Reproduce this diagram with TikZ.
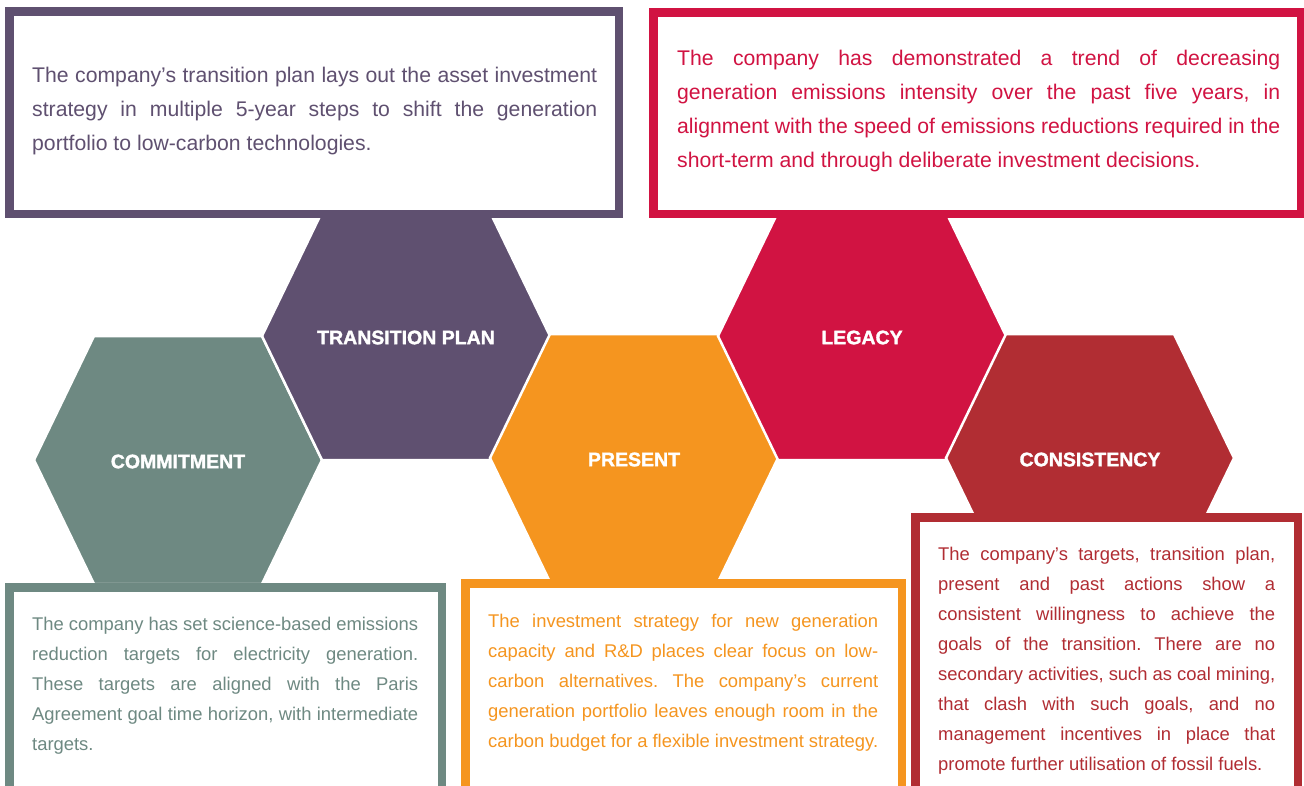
\documentclass[tikz,border=0pt]{standalone}
\usepackage{fontspec}
\setmainfont{Liberation Sans}
\newfontfamily\hexfont{Liberation Sans}[UprightFont={* Bold}, FakeBold=1.6]
\definecolor{planpurple}{HTML}{5F5070}
\definecolor{legacyred}{HTML}{D11342}
\definecolor{commitgrey}{HTML}{6E8982}
\definecolor{presentorange}{HTML}{F5951F}
\definecolor{consistred}{HTML}{B12D33}
\frenchspacing
\tolerance=9999
\hyphenpenalty=10000

\begin{document}
\begin{tikzpicture}[x=1pt, y=-1pt,
				    hexa/.style={draw=white, line width=2.5pt},
				    hexlabel/.style={text=white, inner sep=0pt,
				    			  font=\hexfont\fontsize{19.5}{20}\selectfont},
				    boxframe/.style={draw=#1, line width=8.5pt, fill=white},
				    bigtext/.style={text=#1, anchor=base west, inner sep=0pt, align=justify,
				    			  font=\fontsize{21.2}{34}\selectfont},
				    smalltext/.style={text=#1, anchor=base west, inner sep=0pt, align=justify,
				    			  font=\fontsize{18.4}{30}\selectfont}]
	\useasboundingbox (0,0) rectangle (1304,785);
	\path[clip] (0,0) rectangle (1304,785);

	\foreach \cx/\cy/\col/\txt/\nm in {178/460/commitgrey/COMMITMENT/commit,
		406/336/planpurple/TRANSITION PLAN/plan, 634/458/presentorange/PRESENT/present,
		862/336/legacyred/LEGACY/legacy, 1090/458/consistred/CONSISTENCY/consist}
	{
		\filldraw[hexa, fill=\col] (\cx-144,\cy) -- (\cx-84,\cy-124) -- (\cx+84,\cy-124)
			-- (\cx+144,\cy) -- (\cx+84,\cy+124) -- (\cx-84,\cy+124) -- cycle;
		\node[hexlabel] (\nm) at (\cx,\cy+1.5) {\txt};
	}

	\draw[boxframe=planpurple] (9.25,11.25) rectangle (618.75,213.75);
	\draw[boxframe=legacyred] (653.25,12.25) rectangle (1300.75,213.75);
	\draw[boxframe=commitgrey] (9.25,587.25) rectangle (441.75,820);
	\draw[boxframe=presentorange] (465.25,583.25) rectangle (901.75,820);
	\draw[boxframe=consistred] (915.25,517.25) rectangle (1297.75,820);

	\node[bigtext=planpurple, text width=565pt] (plantext) at (32,82)
		{The company's transition plan lays out the asset investment\linebreak
		 strategy in multiple 5-year steps to shift the generation\linebreak
		 portfolio to low-carbon technologies.};
	\node[bigtext=legacyred, text width=603pt] (legacytext) at (677,65)
		{The company has demonstrated a trend of decreasing\linebreak
		 generation emissions intensity over the past five years, in\linebreak
		 alignment with the speed of emissions reductions required in the\linebreak
		 short-term and through deliberate investment decisions.};
	\node[smalltext=commitgrey, text width=386pt] (committext) at (32,630)
		{The company has set science-based emissions\linebreak
		 reduction targets for electricity generation.\linebreak
		 These targets are aligned with the Paris\linebreak
		 Agreement goal time horizon, with intermediate\linebreak
		 targets.};
	\node[smalltext=presentorange, text width=390pt] (presenttext) at (488,627)
		{The investment strategy for new generation\linebreak
		 capacity and R\&D places clear focus on low-\linebreak
		 carbon alternatives. The company's current\linebreak
		 generation portfolio leaves enough room in the\linebreak
		 carbon budget for a flexible investment strategy.};
	\node[smalltext=consistred, text width=337pt] (consisttext) at (938,560)
		{The company's targets, transition plan,\linebreak
		 present and past actions show a\linebreak
		 consistent willingness to achieve the\linebreak
		 goals of the transition. There are no\linebreak
		 secondary activities, such as coal mining,\linebreak
		 that clash with such goals, and no\linebreak
		 management incentives in place that\linebreak
		 promote further utilisation of fossil fuels.};

\end{tikzpicture}
\end{document}
